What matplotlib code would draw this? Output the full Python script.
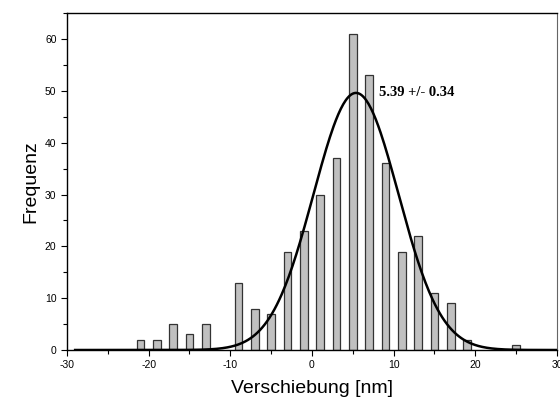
import matplotlib
matplotlib.use("Agg")
import matplotlib.pyplot as plt
import numpy as np
from matplotlib.ticker import MultipleLocator

# histogram of displacements
bin_centers = [-21, -19, -17, -15, -13, -9, -7, -5, -3, -1, 1, 3, 5, 7, 9, 11, 13, 15, 17, 19, 25]
counts = [2, 2, 5, 3, 5, 13, 8, 7, 19, 23, 30, 37, 61, 53, 36, 19, 22, 11, 9, 2, 1]

# gaussian fit parameters
fit_amp = 49.6
fit_center = 5.39
fit_sigma = 5.2
fit_label = "5.39 +/- 0.34"

plt.rcParams["font.family"] = ["Liberation Sans", "DejaVu Sans"]
plt.rcParams["axes.unicode_minus"] = False

fig = plt.figure(figsize=(5.6, 4.03), dpi=100)
ax = fig.add_axes([0.1196, 0.1315, 0.875, 0.836])

ax.bar(bin_centers, counts, width=0.95, color="#c0c0c0", edgecolor="#333333", linewidth=0.9, zorder=2)

x_fit = np.linspace(-29, 30, 400)
y_fit = fit_amp * np.exp(-(x_fit - fit_center) ** 2 / (2 * fit_sigma ** 2))
ax.plot(x_fit, y_fit, color="black", linewidth=1.8, zorder=3)

ax.text(8.2, 49.6, fit_label, family=["Liberation Serif", "DejaVu Serif"], fontweight="bold",
        fontsize=10.5, va="center", ha="left")

ax.set_xlim(-30, 30)
ax.set_ylim(0, 65)
ax.xaxis.set_major_locator(MultipleLocator(10))
ax.xaxis.set_minor_locator(MultipleLocator(5))
ax.yaxis.set_major_locator(MultipleLocator(10))
ax.yaxis.set_minor_locator(MultipleLocator(5))
ax.tick_params(which="both", direction="out", labelsize=7.5, width=0.8)
ax.tick_params(which="major", length=4)
ax.tick_params(which="minor", length=3)
ax.tick_params(axis="x", which="both", top=False)
ax.tick_params(axis="y", which="both", right=False)

for side in ["left", "bottom", "top"]:
    ax.spines[side].set_linewidth(1.0)
ax.spines["right"].set_color("#666666")

ax.set_xlabel("Verschiebung [nm]", fontsize=14, labelpad=7)
ax.set_ylabel("Frequenz", fontsize=14, labelpad=4)

fig.savefig("out.png", dpi=100)
